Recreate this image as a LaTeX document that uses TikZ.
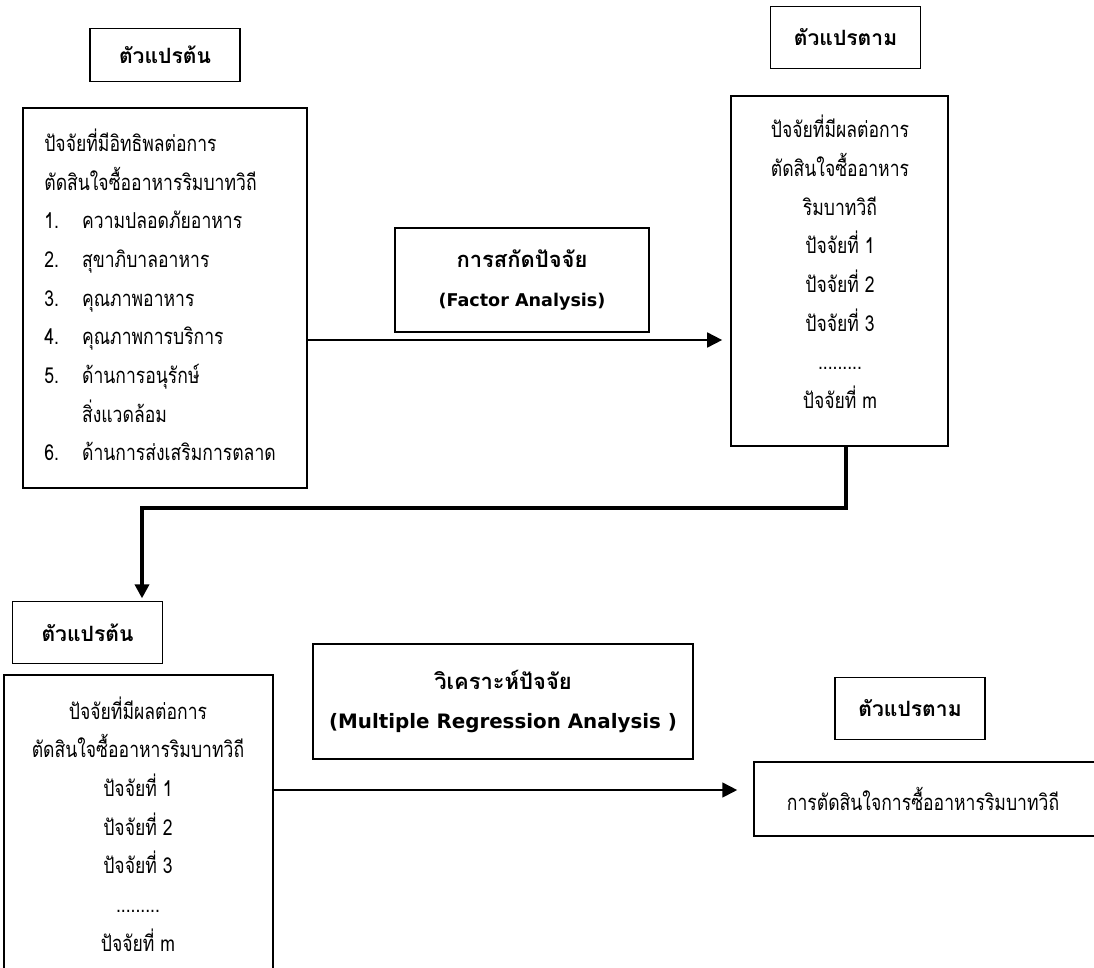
\documentclass[tikz,border=0pt]{standalone}
\usepackage{fontspec}
\setmainfont[Script=Thai]{Loma}
\newfontfamily\thaitext[Script=Thai,FakeStretch=0.8]{Loma}
\newfontfamily\latinfont{DejaVu Sans}
\usetikzlibrary{arrows.meta,positioning}

\newcommand{\numitem}[1]{\makebox[21.5pt][l]{#1.}}

\tikzset{
  box/.style={draw,line width=1.1pt,inner sep=0pt},
  tagbox/.style={box,font=\bfseries\fontsize{12}{14}\selectfont,minimum width=3cm,minimum height=1.24cm},
  txt/.style={inner sep=0pt,font=\thaitext\fontsize{12.5}{22}\selectfont},
  stagebox/.style={box,align=center,font=\bfseries\fontsize{12.5}{22}\selectfont},
  flow/.style={line width=1pt,-{Triangle[length=8.5pt,width=8.5pt]}},
  bigflow/.style={line width=2.7pt,-{Triangle[length=8pt,width=8pt]}},
}

\begin{document}
\begin{tikzpicture}[x=0.02cm,y=-0.02cm]
    \useasboundingbox (0,0) rectangle (1094,967);
    \clip (0,0) rectangle (1094,967);
    %% factor analysis
    \node[tagbox,minimum height=1.06cm] (iv1) at (165,55) {ตัวแปรต้น};
    \node[box,minimum width=5.68cm,minimum height=7.6cm] (ivlist1) at (165,298) {};
    \node[txt,align=left,anchor=west] (ivtext1) at (44,295)
        {ปัจจัยที่มีอิทธิพลต่อการ\\
         ตัดสินใจซื้ออาหารริมบาทวิถี\\
         \numitem{1}ความปลอดภัยอาหาร\\
         \numitem{2}สุขาภิบาลอาหาร\\
         \numitem{3}คุณภาพอาหาร\\
         \numitem{4}คุณภาพการบริการ\\
         \numitem{5}ด้านการอนุรักษ์\\
         \hspace*{21.5pt}สิ่งแวดล้อม\\
         \numitem{6}ด้านการส่งเสริมการตลาด};
    \node[stagebox,minimum width=5.08cm,minimum height=2.08cm] (fa) at (522,280)
        {การสกัดปัจจัย\\{\latinfont\fontsize{10}{22}\selectfont (Factor Analysis)}};
    \node[tagbox] (dv1) at (845.5,37.5) {ตัวแปรตาม};
    \node[box,minimum width=4.34cm,minimum height=7cm] (dvlist1) at (839.5,271) {};
    \node[txt,align=center] (dvtext1) at (840,262)
        {ปัจจัยที่มีผลต่อการ\\ตัดสินใจซื้ออาหาร\\ริมบาทวิถี\\ปัจจัยที่ 1\\
         ปัจจัยที่ 2\\ปัจจัยที่ 3\\.........\\ปัจจัยที่ m};
    \coordinate (faline) at (0,340);
    \draw[flow,shorten >=4.5pt] (ivlist1.east |- faline) -- (dvlist1.west |- faline);
    %% link between the two stages
    \coordinate (bendR) at (846,508);
    \coordinate (bendL) at (142,508);
    \draw[bigflow,shorten >=1.5pt] (bendR |- dvlist1.south) -- (bendR) -- (bendL) -- (bendL |- 0,601);
    %% regression
    \node[tagbox] (iv2) at (87.5,632.5) {ตัวแปรต้น};
    \node[box,minimum width=5.38cm,minimum height=6.5cm] (ivlist2) at (138.5,837.5) {};
    \node[txt,align=center] (ivtext2) at (138,824)
        {ปัจจัยที่มีผลต่อการ\\ตัดสินใจซื้ออาหารริมบาทวิถี\\ปัจจัยที่ 1\\ปัจจัยที่ 2\\
         ปัจจัยที่ 3\\.........\\ปัจจัยที่ m};
    \node[stagebox,minimum width=7.6cm,minimum height=2.3cm] (mra) at (503,701.5)
        {วิเคราะห์ปัจจัย\\{\latinfont\fontsize{11.3}{22}\selectfont (Multiple Regression Analysis )}};
    \node[tagbox] (dv2) at (910,708.5) {ตัวแปรตาม};
    \node[box,txt,anchor=west,inner xsep=0.66cm,text width=6.7cm,align=left,
          minimum height=1.48cm] (dvbox2) at (753,799) {การตัดสินใจการซื้ออาหารริมบาทวิถี};
    \coordinate (mraline) at (0,790);
    \draw[flow,shorten >=9pt] (ivlist2.east |- mraline) -- (dvbox2.west |- mraline);
\end{tikzpicture}
\end{document}
